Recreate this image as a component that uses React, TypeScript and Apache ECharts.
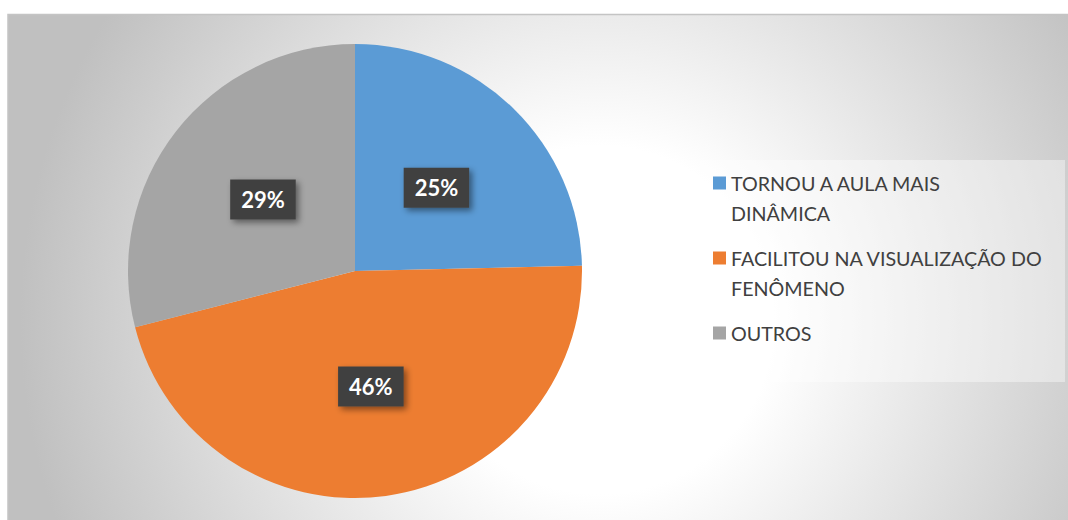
import React, { useEffect, useRef } from "react";
import * as echarts from "echarts";

const categories = [
  "TORNOU A AULA MAIS DINÂMICA",
  "FACILITOU NA VISUALIZAÇÃO DO FENÔMENO",
  "OUTROS",
];
const legendLabels = [
  "TORNOU A AULA MAIS\nDINÂMICA",
  "FACILITOU NA VISUALIZAÇÃO DO\nFENÔMENO",
  "OUTROS\n ",
];
const values = [17, 32, 20];
const colors = ["#5b9bd5", "#ed7d31", "#a5a5a5"];

export default function App() {
  const ref = useRef<HTMLDivElement>(null);
  useEffect(() => {
    if (!ref.current) return;
    const chart = echarts.init(ref.current, null, { renderer: "svg" });
    const icon = "path://M0,0L0,0M0,8.5h13v13h-13zM0,60L0,60";
    chart.setOption({
      animation: false,
      graphic: [
        {
          type: "rect",
          z: -10,
          silent: true,
          shape: { x: 8, y: 14.5, width: 1070, height: 510 },
          style: {
            fill: {
              type: "radial",
              x: 600,
              y: 320,
              r: 580,
              global: true,
              colorStops: [
                { offset: 0, color: "#ffffff" },
                { offset: 0.3, color: "#ffffff" },
                { offset: 1, color: "#c0c0c0" },
              ],
            },
            stroke: "#c4c4c4",
            lineWidth: 1.5,
          },
        },
      ],
      legend: {
        orient: "vertical",
        left: 700,
        top: 160,
        backgroundColor: "rgba(255,255,255,0.4)",
        padding: [8, 22, 4, 13],
        itemWidth: 13,
        itemHeight: 60,
        itemGap: 15,
        icon,
        data: categories,
        formatter: (name: string) => legendLabels[categories.indexOf(name)],
        textStyle: {
          fontFamily: "Lato",
          fontSize: 19.7,
          lineHeight: 30,
          color: "#404040",
        },
      },
      series: [
        {
          type: "pie",
          center: [355, 271],
          radius: 227,
          startAngle: 90,
          clockwise: true,
          percentPrecision: 0,
          data: categories.map((c, i) => ({
            name: c,
            value: values[i],
            itemStyle: { color: colors[i] },
          })),
          label: {
            position: "inside",
            formatter: "{d}%",
            fontFamily: "Lato",
            fontSize: 22,
            fontWeight: "bold",
            color: "#ffffff",
            backgroundColor: "#404040",
            padding: [9, 11],
            shadowColor: "rgba(0,0,0,0.45)",
            shadowBlur: 6,
            shadowOffsetX: 3,
            shadowOffsetY: 3,
          },
          labelLine: { show: false },
          emphasis: { disabled: true },
        },
      ],
    });
    return () => chart.dispose();
  }, []);
  return (
    <div
      ref={ref}
      style={{ position: "absolute", left: 0, top: 0, width: 1068, height: 520 }}
    />
  );
}
